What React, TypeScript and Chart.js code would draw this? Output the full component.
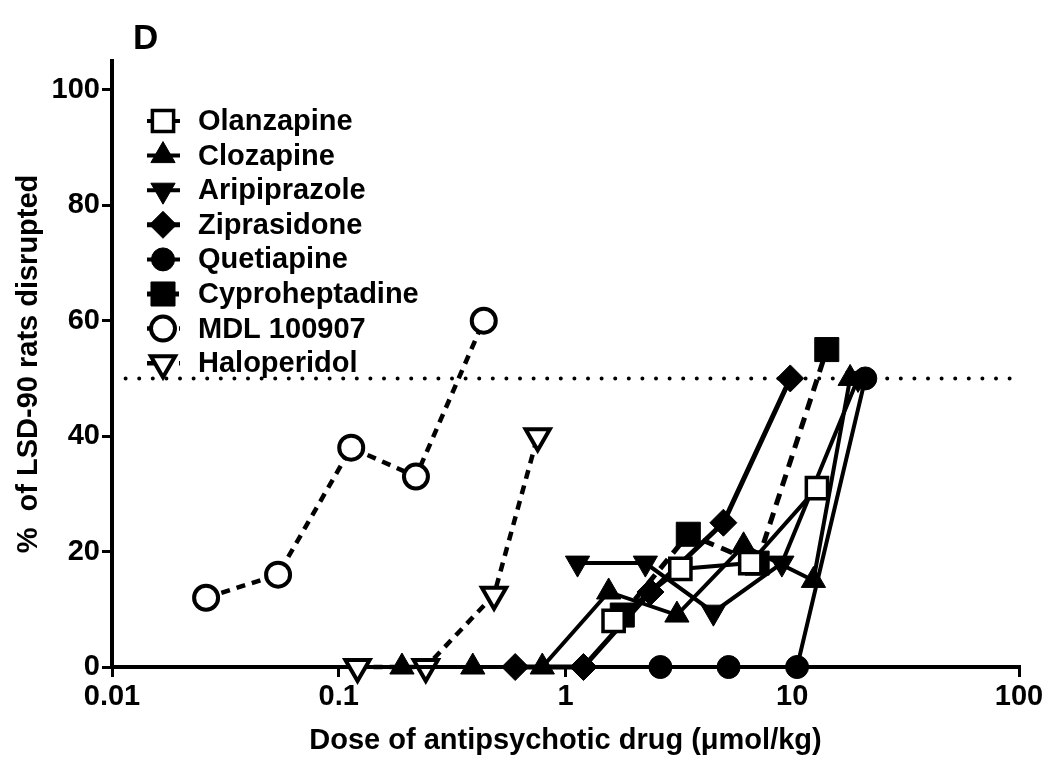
import React, { useEffect, useRef } from "react";
import { Chart, registerables } from "chart.js";
import { drawPoint } from "chart.js/helpers";

Chart.register(...registerables);

// ---- Data ----
const seriesNames = [
  "Olanzapine",
  "Clozapine",
  "Aripiprazole",
  "Ziprasidone",
  "Quetiapine",
  "Cyproheptadine",
  "MDL 100907",
  "Haloperidol",
];

const olanzapineDose = [1.63, 3.21, 6.53, 12.85];
const olanzapinePct = [8, 17, 18, 31];

const clozapineDose = [0.19, 0.39, 0.79, 1.55, 3.1, 6.1, 12.4, 18];
const clozapinePct = [0, 0, 0, 13, 9, 21, 15, 50];

const aripiprazoleDose = [1.13, 2.25, 4.49, 9.0, 19.5];
const aripiprazolePct = [18, 18, 9.5, 18, 50];

const ziprasidoneDose = [0.6, 1.2, 2.37, 4.97, 9.8];
const ziprasidonePct = [0, 0, 13, 25, 50];

const quetiapineDose = [2.62, 5.24, 10.5, 21];
const quetiapinePct = [0, 0, 0, 50];

const cyproheptadineDose = [1.78, 3.48, 7.0, 14.2];
const cyproheptadinePct = [9, 23, 18, 55];

const mdlDose = [0.026, 0.054, 0.1135, 0.219, 0.436];
const mdlPct = [12, 16, 38, 33, 60];

const haloperidolDose = [0.121, 0.242, 0.484, 0.754];
const haloperidolPct = [0, 0, 12.5, 40];

const thresholdPct = 50;

const xTickValues = [0.01, 0.1, 1, 10, 100];
const xTickLabels = ["0.01", "0.1", "1", "10", "100"];
const yTickValues = [0, 20, 40, 60, 80, 100];
const yTickLabels = ["0", "20", "40", "60", "80", "100"];

const xMin = 0.01;
const xMax = 100;
const yMin = 0;
const yMax = 105;

const panelLabel = "D";
const xTitle = "Dose of antipsychotic drug (\u03bcmol/kg)";
const yTitle = "%  of LSD-90 rats disrupted";

// ---- helpers ----
const FONT = '"Liberation Sans", Arial, Helvetica, sans-serif';
const pts = (xs: number[], ys: number[]) => xs.map((x, i) => ({ x, y: ys[i] }));

type Style = {
  pointStyle: string;
  rotation?: number;
  radius: number;
  fill: string;
  pbw: number;
  lw: number;
  dash: number[];
};

const styles: Style[] = [
  { pointStyle: "rect", radius: 15, fill: "#ffffff", pbw: 3.5, lw: 4, dash: [] },
  { pointStyle: "triangle", radius: 14, fill: "#000000", pbw: 1, lw: 4, dash: [] },
  { pointStyle: "triangle", rotation: 180, radius: 14, fill: "#000000", pbw: 1, lw: 4, dash: [] },
  { pointStyle: "rectRot", radius: 13.5, fill: "#000000", pbw: 1, lw: 5, dash: [] },
  { pointStyle: "circle", radius: 11.5, fill: "#000000", pbw: 1, lw: 4, dash: [] },
  { pointStyle: "rect", radius: 17, fill: "#000000", pbw: 1, lw: 5, dash: [12, 8] },
  { pointStyle: "circle", radius: 12, fill: "#ffffff", pbw: 4, lw: 4.5, dash: [9, 7] },
  { pointStyle: "triangle", rotation: 180, radius: 14, fill: "#ffffff", pbw: 4, lw: 4.5, dash: [9, 7] },
];

const seriesData = [
  pts(olanzapineDose, olanzapinePct),
  pts(clozapineDose, clozapinePct),
  pts(aripiprazoleDose, aripiprazolePct),
  pts(ziprasidoneDose, ziprasidonePct),
  pts(quetiapineDose, quetiapinePct),
  pts(cyproheptadineDose, cyproheptadinePct),
  pts(mdlDose, mdlPct),
  pts(haloperidolDose, haloperidolPct),
];

const legendPlugin = {
  id: "customLegend",
  afterDraw(chart: any) {
    const { ctx, chartArea } = chart;
    ctx.save();
    // panel label
    ctx.fillStyle = "#000";
    ctx.font = `bold 35px ${FONT}`;
    ctx.textAlign = "left";
    ctx.textBaseline = "alphabetic";
    ctx.fillText(panelLabel, chartArea.left + 21, 49);

    const symX = chartArea.left + 51;
    const top = chartArea.top + 60;
    const step = 34.6;
    seriesNames.forEach((name, i) => {
      const s = styles[i];
      const y = top + i * step;
      ctx.beginPath();
      ctx.setLineDash(s.dash);
      ctx.lineWidth = s.lw;
      ctx.strokeStyle = "#000";
      ctx.moveTo(symX - 16, y);
      ctx.lineTo(symX + 17, y);
      ctx.stroke();
      ctx.setLineDash([]);
      ctx.fillStyle = s.fill;
      ctx.strokeStyle = "#000";
      ctx.lineWidth = s.pbw;
      drawPoint(
        ctx,
        {
          pointStyle: s.pointStyle as any,
          rotation: s.rotation || 0,
          radius: s.radius,
          borderWidth: s.pbw,
        } as any,
        symX,
        y
      );
      ctx.fillStyle = "#000";
      ctx.font = `bold 29px ${FONT}`;
      ctx.textBaseline = "middle";
      ctx.fillText(name, symX + 35, y + 1);
    });
    ctx.restore();
  },
};

export default function App() {
  const ref = useRef<HTMLCanvasElement | null>(null);

  useEffect(() => {
    if (!ref.current) return;
    Chart.defaults.font.family = FONT;
    Chart.defaults.color = "#000";

    const datasets: any[] = seriesNames.map((name, i) => {
      const s = styles[i];
      return {
        label: name,
        data: seriesData[i],
        borderColor: "#000",
        borderWidth: s.lw,
        borderDash: s.dash,
        backgroundColor: s.fill,
        pointStyle: s.pointStyle,
        pointRotation: s.rotation || 0,
        pointRadius: s.radius,
        pointBackgroundColor: s.fill,
        pointBorderColor: "#000",
        pointBorderWidth: s.pbw,
        pointHoverRadius: s.radius,
        tension: 0,
        fill: false,
        clip: false,
      };
    });
    datasets.push({
      label: "threshold",
      data: [
        { x: xMin, y: thresholdPct },
        { x: xMax, y: thresholdPct },
      ],
      borderColor: "#000",
      borderWidth: 4,
      borderDash: [0, 13.6],
      borderCapStyle: "round",
      pointRadius: 0,
      fill: false,
      clip: false,
    });

    const chart = new Chart(ref.current, {
      type: "line",
      data: { datasets },
      plugins: [legendPlugin],
      options: {
        responsive: false,
        animation: false,
        events: [],
        layout: { padding: { top: 61, right: 31, left: 0, bottom: 0 } },
        plugins: {
          legend: { display: false },
          tooltip: { enabled: false },
          title: { display: false },
        },
        scales: {
          x: {
            type: "logarithmic",
            min: xMin,
            max: xMax,
            afterFit: (scale: any) => {
              scale.height = 98;
            },
            afterBuildTicks: (scale: any) => {
              scale.ticks = xTickValues.map((v) => ({ value: v, major: true }));
            },
            ticks: {
              autoSkip: false,
              maxRotation: 0,
              padding: 3,
              color: "#000",
              font: { size: 29, weight: "bold", family: FONT },
              callback: (_v: any, idx: number) => xTickLabels[idx],
            },
            grid: {
              display: true,
              drawOnChartArea: false,
              drawTicks: true,
              tickLength: 10,
              color: "#000",
              lineWidth: 3,
            },
            border: { display: true, color: "#000", width: 4 },
            title: {
              display: true,
              text: xTitle,
              color: "#000",
              font: { size: 29, weight: "bold", family: FONT },
              padding: { top: 0, bottom: 7 },
            },
          },
          y: {
            type: "linear",
            min: yMin,
            max: yMax,
            afterFit: (scale: any) => {
              scale.width = 112;
            },
            afterBuildTicks: (scale: any) => {
              scale.ticks = yTickValues.map((v) => ({ value: v }));
            },
            ticks: {
              padding: 2,
              color: "#000",
              font: { size: 29, weight: "bold", family: FONT },
              callback: (_v: any, idx: number) => yTickLabels[idx],
            },
            grid: {
              display: true,
              drawOnChartArea: false,
              drawTicks: true,
              tickLength: 10,
              color: "#000",
              lineWidth: 3,
            },
            border: { display: true, color: "#000", width: 4 },
            title: {
              display: true,
              text: yTitle,
              color: "#000",
              font: { size: 29, weight: "bold", family: FONT },
              padding: { top: 12, bottom: 0 },
            },
          },
        },
      } as any,
    });
    return () => chart.destroy();
  }, []);

  return (
    <div
      style={{
        position: "absolute",
        left: 0,
        top: 0,
        width: 1050,
        height: 765,
        background: "#fff",
      }}
    >
      <canvas ref={ref} width={1050} height={765} style={{ display: "block" }} />
    </div>
  );
}
